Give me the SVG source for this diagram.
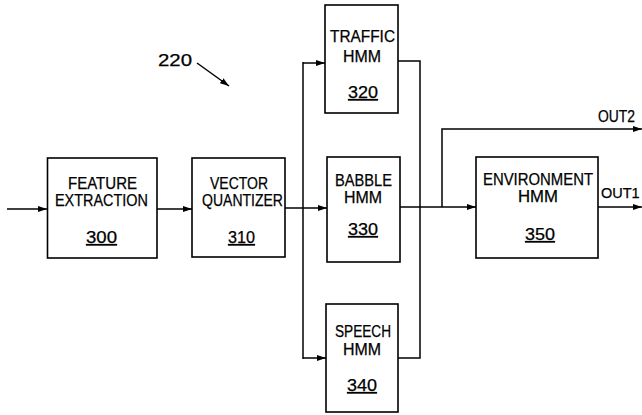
<svg xmlns="http://www.w3.org/2000/svg" width="642" height="415" viewBox="0 0 642 415">
<style>
.box{fill:#fff;stroke:#000;stroke-width:1.6}
.ln{fill:none;stroke:#000;stroke-width:1.5}
.t{font-family:"Liberation Sans",Arial,sans-serif;font-size:16px;fill:#000;stroke:#000;stroke-width:0.25}
.u{text-decoration:underline}
</style>
<defs>
<marker id="ah" markerWidth="10" markerHeight="8" refX="9" refY="4" orient="auto" markerUnits="userSpaceOnUse">
<path d="M0,1 L9,4 L0,7 Z" fill="#000"/>
</marker>
</defs>
<rect width="642" height="415" fill="#fff"/>
<g id="connectors">
<line class="ln" x1="7" y1="209" x2="47" y2="209" marker-end="url(#ah)"/>
<line class="ln" x1="157" y1="209" x2="192" y2="209" marker-end="url(#ah)"/>
<line class="ln" x1="285" y1="208" x2="327" y2="208" marker-end="url(#ah)"/>
<line class="ln" x1="303" y1="62" x2="303" y2="359"/>
<line class="ln" x1="303" y1="63" x2="325" y2="63" marker-end="url(#ah)"/>
<line class="ln" x1="303" y1="358" x2="326" y2="358" marker-end="url(#ah)"/>
<polyline class="ln" points="398,61 420,61 420,358 398,358"/>
<line class="ln" x1="400" y1="207" x2="476" y2="207" marker-end="url(#ah)"/>
<polyline class="ln" points="442,207 442,129 642,129" marker-end="url(#ah)"/>
<line class="ln" x1="598" y1="207" x2="642" y2="207" marker-end="url(#ah)"/>
<line class="ln" x1="197" y1="63" x2="229" y2="86" marker-end="url(#ah)"/>
</g>
<g id="n220"><text class="t" x="158" y="66" textLength="34" lengthAdjust="spacingAndGlyphs">220</text></g>
<g id="n300">
<rect class="box" x="47.5" y="158" width="109.5" height="100"/>
<text class="t" x="68" y="189" textLength="69" lengthAdjust="spacingAndGlyphs">FEATURE</text>
<text class="t" x="55" y="206" textLength="93" lengthAdjust="spacingAndGlyphs">EXTRACTION</text>
<text class="t u" x="86" y="243" textLength="31" lengthAdjust="spacingAndGlyphs">300</text>
</g>
<g id="n310">
<rect class="box" x="192" y="158" width="93" height="99"/>
<text class="t" x="210" y="189" textLength="58" lengthAdjust="spacingAndGlyphs">VECTOR</text>
<text class="t" x="202" y="206" textLength="81" lengthAdjust="spacingAndGlyphs">QUANTIZER</text>
<text class="t u" x="228" y="243" textLength="27" lengthAdjust="spacingAndGlyphs">310</text>
</g>
<g id="n320">
<rect class="box" x="325" y="5" width="73" height="108"/>
<text class="t" x="330" y="42" textLength="65" lengthAdjust="spacingAndGlyphs">TRAFFIC</text>
<text class="t" x="343" y="62" textLength="38" lengthAdjust="spacingAndGlyphs">HMM</text>
<text class="t u" x="348" y="98" textLength="30" lengthAdjust="spacingAndGlyphs">320</text>
</g>
<g id="n330">
<rect class="box" x="327" y="157" width="73" height="105"/>
<text class="t" x="335" y="186" textLength="57" lengthAdjust="spacingAndGlyphs">BABBLE</text>
<text class="t" x="344" y="203" textLength="38" lengthAdjust="spacingAndGlyphs">HMM</text>
<text class="t u" x="348" y="235" textLength="30" lengthAdjust="spacingAndGlyphs">330</text>
</g>
<g id="n340">
<rect class="box" x="326" y="304" width="72" height="108"/>
<text class="t" x="335" y="337" textLength="56" lengthAdjust="spacingAndGlyphs">SPEECH</text>
<text class="t" x="343" y="355" textLength="38" lengthAdjust="spacingAndGlyphs">HMM</text>
<text class="t u" x="347" y="391" textLength="30" lengthAdjust="spacingAndGlyphs">340</text>
</g>
<g id="n350">
<rect class="box" x="476" y="157" width="122" height="101"/>
<text class="t" x="483" y="185" textLength="110" lengthAdjust="spacingAndGlyphs">ENVIRONMENT</text>
<text class="t" x="518" y="202" textLength="40" lengthAdjust="spacingAndGlyphs">HMM</text>
<text class="t u" x="525" y="240" textLength="30" lengthAdjust="spacingAndGlyphs">350</text>
</g>
<g id="labels">
<text class="t" x="598" y="122" textLength="37" lengthAdjust="spacingAndGlyphs">OUT2</text>
<text class="t" x="601" y="198" style="font-size:14.5px">OUT1</text>
</g>
</svg>
